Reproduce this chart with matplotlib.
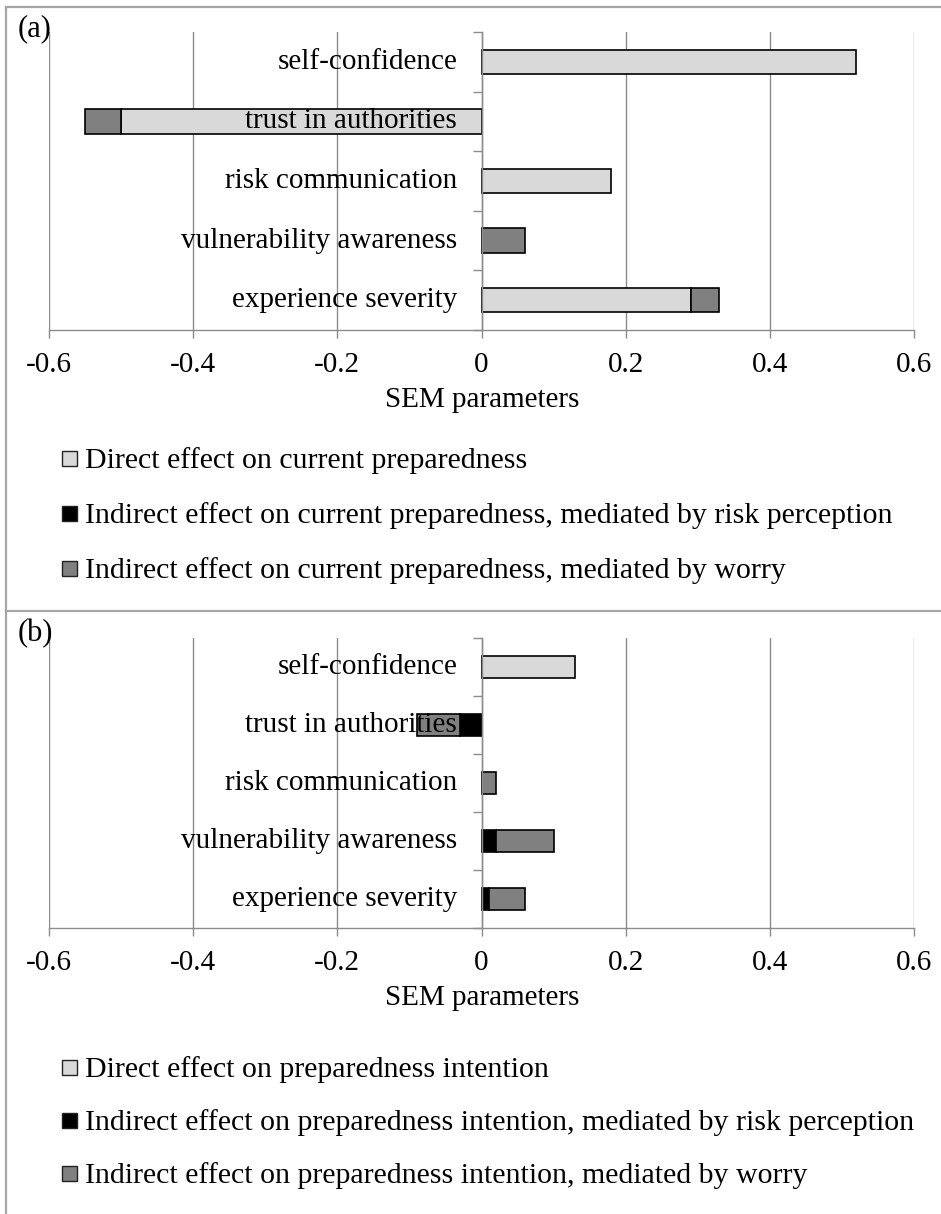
import matplotlib
matplotlib.use("Agg")
import matplotlib.pyplot as plt
from matplotlib.patches import Rectangle
from matplotlib.lines import Line2D
import numpy as np

plt.rcParams['font.family'] = ['Liberation Serif', 'DejaVu Serif']

categories = ["self-confidence", "trust in authorities", "risk communication",
              "vulnerability awareness", "experience severity"]

# Panel (a): current preparedness
a_direct = [0.52, -0.50, 0.18, 0.0, 0.29]
a_riskperc = [0.0, 0.0, 0.0, 0.0, 0.0]
a_worry = [0.0, -0.05, 0.0, 0.06, 0.04]

# Panel (b): preparedness intention
b_direct = [0.13, 0.0, 0.0, 0.0, 0.0]
b_riskperc = [0.0, -0.03, 0.0, 0.02, 0.01]
b_worry = [0.0, -0.06, 0.02, 0.08, 0.05]

xticks = [-0.6, -0.4, -0.2, 0, 0.2, 0.4, 0.6]
xtick_labels = ["-0.6", "-0.4", "-0.2", "0", "0.2", "0.4", "0.6"]

legend_a = ["Direct effect on current preparedness",
            "Indirect effect on current preparedness, mediated by risk perception",
            "Indirect effect on current preparedness, mediated by worry"]
legend_b = ["Direct effect on preparedness intention",
            "Indirect effect on preparedness intention, mediated by risk perception",
            "Indirect effect on preparedness intention, mediated by worry"]

colors = ["#d9d9d9", "#000000", "#808080"]
GRID = "#8c8c8c"
FRAME = "#a6a6a6"
FS = 21
LFS = 21.5

W, H = 941, 1214
fig = plt.figure(figsize=(W / 100, H / 100), dpi=100)


def fx(px):
    return px / W


def fy(py):
    return 1 - py / H


def panel(top, bottom, series, bar_h, legend_labels, legend_rows, title_y, tag, tag_y):
    ax = fig.add_axes([fx(49), fy(bottom), fx(914) - fx(49), (bottom - top) / H])
    ax.set_xlim(-0.6, 0.6)
    ax.set_ylim(4.5, -0.5)
    y = np.arange(len(categories))
    pos = np.zeros(len(categories))
    neg = np.zeros(len(categories))
    for vals, col in zip(series, colors):
        for i, v in enumerate(vals):
            if v == 0:
                continue
            if v > 0:
                left = pos[i]
                pos[i] += v
            else:
                left = neg[i]
                neg[i] += v
            ax.barh(y[i], v, left=left, height=bar_h, color=col,
                    edgecolor="black", linewidth=1.2, zorder=2)
    ax.set_axisbelow(True)
    ax.grid(axis="x", color=GRID, linewidth=1.0)
    ax.grid(axis="y", visible=False)
    for s in ["top", "right"]:
        ax.spines[s].set_visible(False)
    ax.spines["bottom"].set_color(GRID)
    ax.spines["bottom"].set_linewidth(1.0)
    ax.spines["left"].set_position(("data", 0))
    ax.spines["left"].set_color(GRID)
    ax.spines["left"].set_linewidth(1.0)
    ax.spines["left"].set_zorder(3)
    ax.set_xticks(xticks)
    ax.set_xticklabels(xtick_labels, fontsize=FS)
    ax.tick_params(axis="x", direction="out", length=6, width=1.0, color=GRID, pad=10)
    ax.set_yticks(np.arange(-0.5, 5.0, 1.0))
    ax.set_yticklabels([])
    ax.tick_params(axis="y", direction="out", length=6.5, width=1.0, color=GRID)
    for i, c in enumerate(categories):
        ax.annotate(c, xy=(0, y[i]), xytext=(-17.5, 0), textcoords="offset points",
                    ha="right", va="center", fontsize=FS, zorder=5)
    fig.text(fx(482), fy(title_y), "SEM parameters", ha="center", va="center", fontsize=FS)
    fig.text(fx(18), fy(tag_y), tag, ha="left", va="center", fontsize=FS + 1)
    for lab, col, ry in zip(legend_labels, colors, legend_rows):
        fig.add_artist(Rectangle((fx(62), fy(ry + 8)), 15 / W, 15 / H,
                                 transform=fig.transFigure, facecolor=col,
                                 edgecolor="#222222", linewidth=1.0))
        fig.text(fx(85), fy(ry + 10), lab, ha="left", va="baseline", fontsize=LFS)
    return ax


panel(32, 330, [a_direct, a_riskperc, a_worry], 0.41, legend_a,
      [458, 513, 568], 400, "(a)", 29)
panel(638, 928, [b_direct, b_riskperc, b_worry], 0.39, legend_b,
      [1067, 1120, 1173], 998, "(b)", 634)

# Frame lines
for line in [([fx(6), 1.0], [fy(7), fy(7)]),
             ([fx(6), fx(6)], [fy(7), 0.0]),
             ([fx(6), 1.0], [fy(611), fy(611)])]:
    fig.add_artist(Line2D(line[0], line[1], transform=fig.transFigure,
                          color=FRAME, linewidth=1.6))

fig.savefig("out.png", dpi=100)
